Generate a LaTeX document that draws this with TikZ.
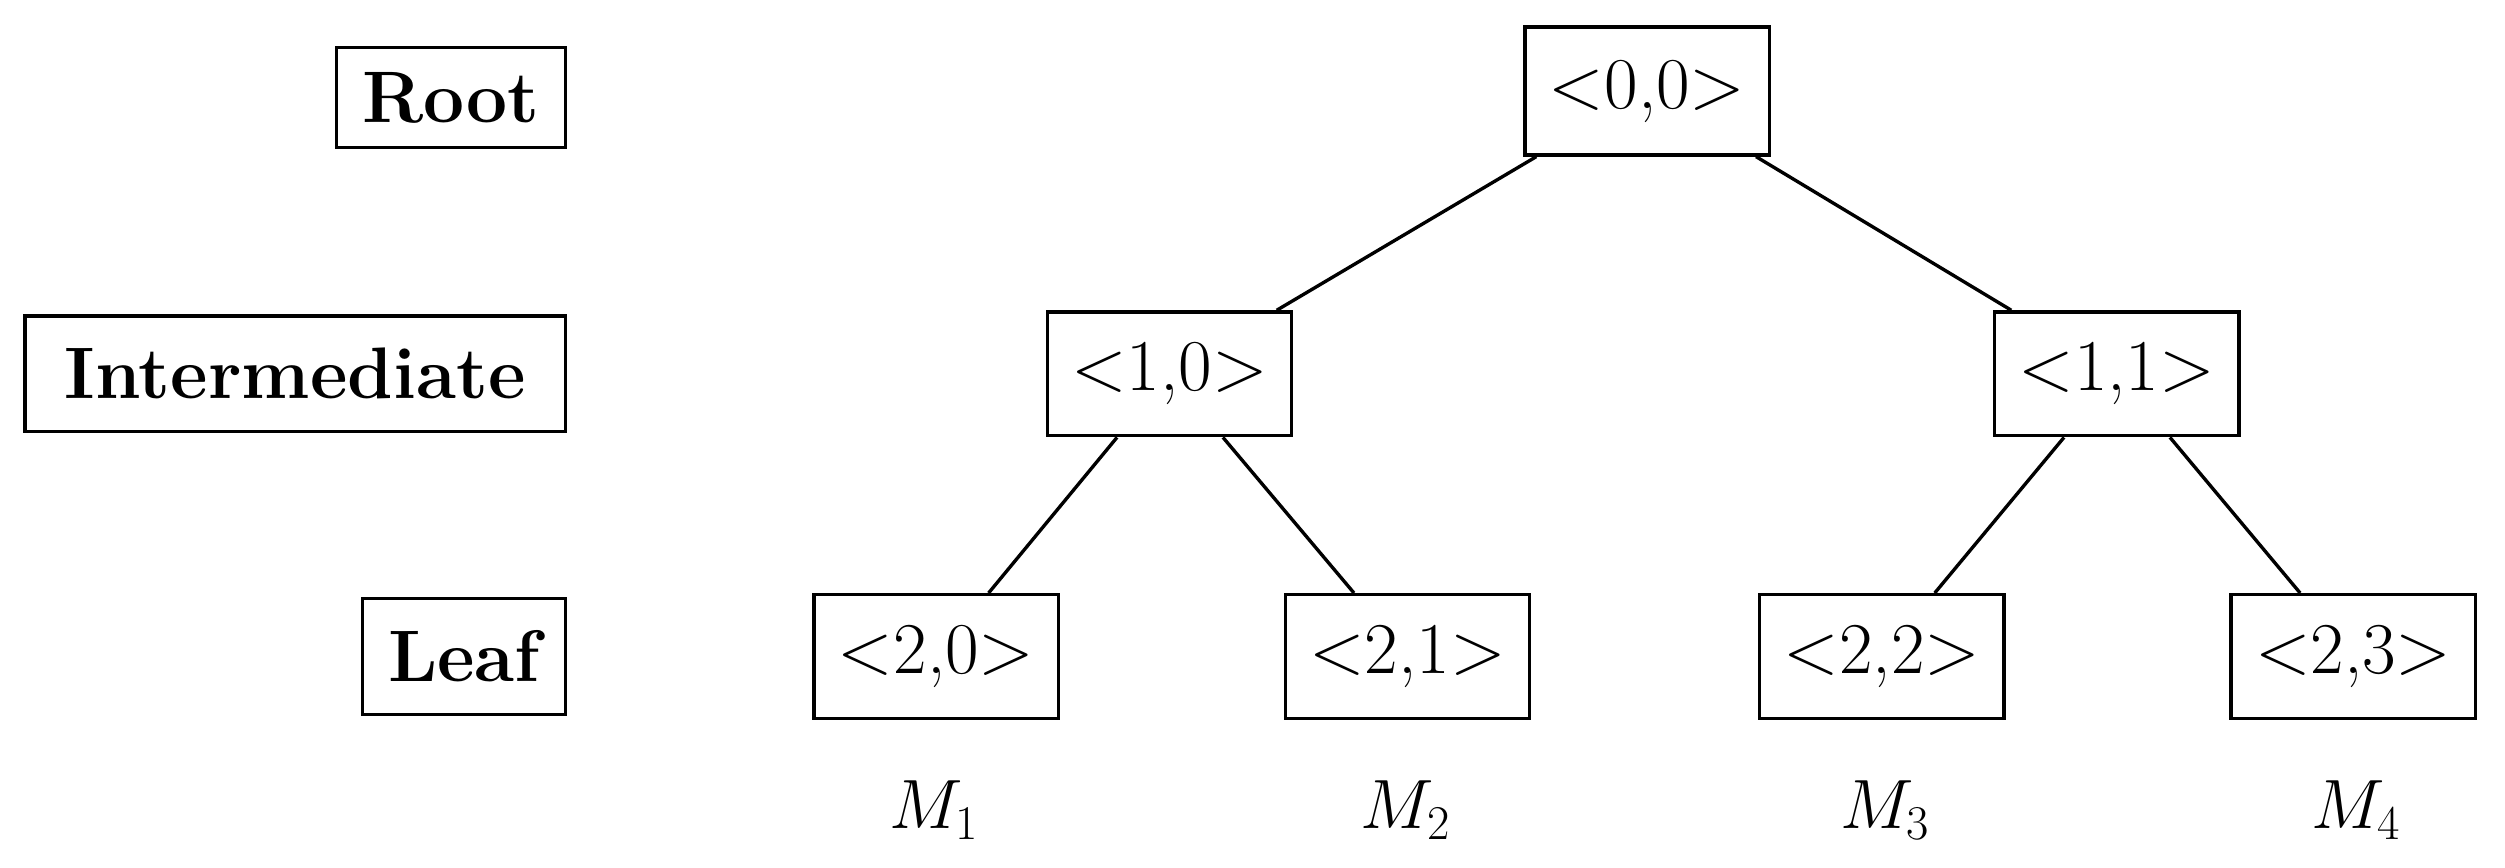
\documentclass[tikz,border=0pt]{standalone}
\begin{document}
\begin{tikzpicture}[x=0.02cm,y=-0.02cm,
  box/.style={draw,line width=1.2pt,minimum height=1.55cm,inner xsep=0.3cm,font=\fontsize{26}{30}\selectfont},
  lab/.style={draw,line width=1.2pt,minimum height=1.35cm,inner xsep=0.32cm,anchor=east,font=\fontsize{26}{30}\selectfont\bfseries},
  ml/.style={font=\fontsize{26}{30}\selectfont},
  edge/.style={line width=1.2pt}]
\useasboundingbox (0,0) rectangle (1568,543);
\node[lab,minimum height=1.25cm] (root) at (355,61) {Root};
\node[lab,minimum height=1.45cm,inner xsep=0.5cm] (inter) at (355,234) {Intermediate};
\node[lab,minimum height=1.45cm] (leaf) at (355,411) {Leaf};
\node[box,minimum height=1.6cm] (n00) at (1031,57) {<0,0>};
\node[box] (n10) at (732,234) {<1,0>};
\node[box] (n11) at (1325,234) {<1,1>};
\node[box] (n20) at (586,411) {<2,0>};
\node[box] (n21) at (881,411) {<2,1>};
\node[box] (n22) at (1178,411) {<2,2>};
\node[box] (n23) at (1473,411) {<2,3>};
\node[ml] (m1) at (585,507) {$M_1$};
\node[ml] (m2) at (880,507) {$M_2$};
\node[ml] (m3) at (1180,507) {$M_3$};
\node[ml] (m4) at (1475,507) {$M_4$};
\draw[edge] (n00) -- (n10);
\draw[edge] (n00) -- (n11);
\draw[edge] (n10) -- (n20);
\draw[edge] (n10) -- (n21);
\draw[edge] (n11) -- (n22);
\draw[edge] (n11) -- (n23);
\end{tikzpicture}
\end{document}
